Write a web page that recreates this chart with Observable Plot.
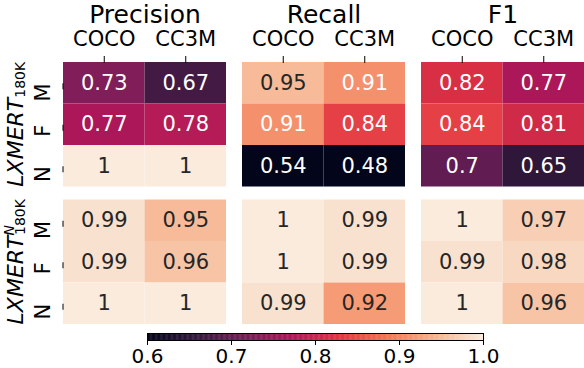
<!DOCTYPE html>
<html>
<head>
<meta charset="utf-8">
<script src="https://cdn.jsdelivr.net/npm/d3@7"></script>
<script src="https://cdn.jsdelivr.net/npm/@observablehq/plot@0.6"></script>
<style>
  html, body { margin: 0; padding: 0; background: white; }
  #chart svg { display: block; }
</style>
</head>
<body>
<div id="chart"></div>
<script>
// ---- data ----
const metrics = ["Precision", "Recall", "F1"];
const datasets = ["COCO", "CC3M"];
const genders = ["M", "F", "N"];
const models = ["base", "neutral"]; // LXMERT_180K, LXMERT^N_180K

// values per gender [M, F, N]
const baseCOCO = { Precision: [0.73, 0.77, 1], Recall: [0.95, 0.91, 0.54], F1: [0.82, 0.84, 0.7] };
const baseCC3M = { Precision: [0.67, 0.78, 1], Recall: [0.91, 0.84, 0.48], F1: [0.77, 0.81, 0.65] };
const neutralCOCO = { Precision: [0.99, 0.99, 1], Recall: [1, 1, 0.99], F1: [1, 0.99, 1] };
const neutralCC3M = { Precision: [0.95, 0.96, 1], Recall: [0.99, 0.99, 0.92], F1: [0.97, 0.98, 0.96] };

const colorTicks = [0.6, 0.7, 0.8, 0.9, 1.0];

// seaborn "rocket" stops
const rocketStops = ["#03051A", "#35193E", "#701F57", "#AD1759", "#E13342", "#F37651", "#F6B48F", "#FAEBDD"];

// ---- build table ----
const source = { base: { COCO: baseCOCO, CC3M: baseCC3M }, neutral: { COCO: neutralCOCO, CC3M: neutralCC3M } };
const data = [];
for (const model of models)
  for (const metric of metrics)
    for (const dataset of datasets)
      genders.forEach((gender, i) => data.push({ model, metric, dataset, gender, value: source[model][dataset][metric][i] }));

const vmin = 0.6, vmax = 1.0;
const rocket = d3.piecewise(d3.interpolateRgb, rocketStops);
const colorDomain = rocketStops.map((_, i) => vmin + (vmax - vmin) * i / (rocketStops.length - 1));
const colorScale = { type: "linear", domain: colorDomain, range: rocketStops, interpolate: "rgb", clamp: true };

function relLum(c) {
  const rgb = d3.rgb(c);
  const f = v => { v /= 255; return v <= 0.03928 ? v / 12.92 : Math.pow((v + 0.055) / 1.055, 2.4); };
  return 0.2126 * f(rgb.r) + 0.7152 * f(rgb.g) + 0.0722 * f(rgb.b);
}
function textColor(v) {
  const t = Math.max(0, Math.min(1, (v - vmin) / (vmax - vmin)));
  return relLum(rocket(t)) > 0.408 ? "#262626" : "#ffffff";
}
const fmt = d3.format(".2~g");

const font = "DejaVu Sans, Liberation Sans, sans-serif";

const main = Plot.plot({
  width: 584,
  height: 327,
  marginLeft: 63,
  marginRight: 0,
  marginTop: 62,
  marginBottom: 3,
  style: { fontFamily: font, background: "white" },
  fx: { domain: metrics, paddingInner: 16 / 179, paddingOuter: 0, round: false, axis: null },
  fy: { domain: models, paddingInner: 13 / 137.5, paddingOuter: 0, round: false, axis: null },
  x: { domain: datasets, padding: 0, round: false, axis: null },
  y: { domain: genders, padding: 0, round: false, axis: null },
  color: colorScale,
  marks: [
    Plot.cell(data, { fx: "metric", fy: "model", x: "dataset", y: "gender", fill: "value", inset: 0 }),
    Plot.text(data, { fx: "metric", fy: "model", x: "dataset", y: "gender", text: d => fmt(d.value), fill: d => textColor(d.value), fontSize: 21 }),
    Plot.axisX({ anchor: "top", label: null, tickSize: 7, tickPadding: 10, fontSize: 21, stroke: "black", fill: "black" }),
    Plot.axisY({ anchor: "left", label: null, tickSize: 6, tickPadding: 14, fontSize: 21, rotate: -90, stroke: "black", fill: "black" }),
    Plot.axisFx({ anchor: "top", label: null, tickSize: 0, tickPadding: 40, fontSize: 25, fill: "black" })
  ]
});

// group labels on the left (rows)
{
  const fy = main.scale("fy");
  const svg = d3.select(main.tagName === "svg" ? main : main.querySelector("svg"));
  const bw = fy.bandwidth;
  const cy0 = fy.apply("base") + bw / 2;
  const cy1 = fy.apply("neutral") + bw / 2;
  const t0 = svg.append("text")
    .attr("transform", `translate(23,${cy0}) rotate(-90)`)
    .attr("text-anchor", "middle")
    .attr("font-family", font)
    .attr("fill", "black");
  t0.append("tspan").attr("font-style", "italic").attr("font-size", 22).text("LXMERT");
  t0.append("tspan").attr("font-size", 14).attr("dy", 2).text("180K");

  const t1 = svg.append("text")
    .attr("transform", `translate(23,${cy1}) rotate(-90)`)
    .attr("text-anchor", "middle")
    .attr("font-family", font)
    .attr("fill", "black");
  t1.append("tspan").attr("font-style", "italic").attr("font-size", 22).text("LXMERT");
  t1.append("tspan").attr("font-style", "italic").attr("font-size", 14).attr("dy", -9).text("N");
  t1.append("tspan").attr("font-size", 14).attr("dx", -10).attr("dy", 11).text("180K");
}

// colorbar
const steps = d3.range(400).map(i => vmin + (vmax - vmin) * i / 400);
const bar = Plot.plot({
  width: 584,
  height: 41,
  marginLeft: 147,
  marginRight: 101,
  marginTop: 6,
  marginBottom: 28,
  style: { fontFamily: font, background: "white", overflow: "visible" },
  x: { domain: [vmin, vmax], axis: null },
  color: colorScale,
  marks: [
    Plot.rectX(steps, { x1: d => d, x2: d => d + (vmax - vmin) / 400 + 0.0005, fill: d => d }),
    Plot.frame({ stroke: "black", strokeWidth: 1 }),
    Plot.axisX({ ticks: colorTicks, tickFormat: ".1f", label: null, tickSize: 5, tickPadding: 3, fontSize: 20, stroke: "black", fill: "black" })
  ]
});

document.getElementById("chart").append(main, bar);
</script>
</body>
</html>
